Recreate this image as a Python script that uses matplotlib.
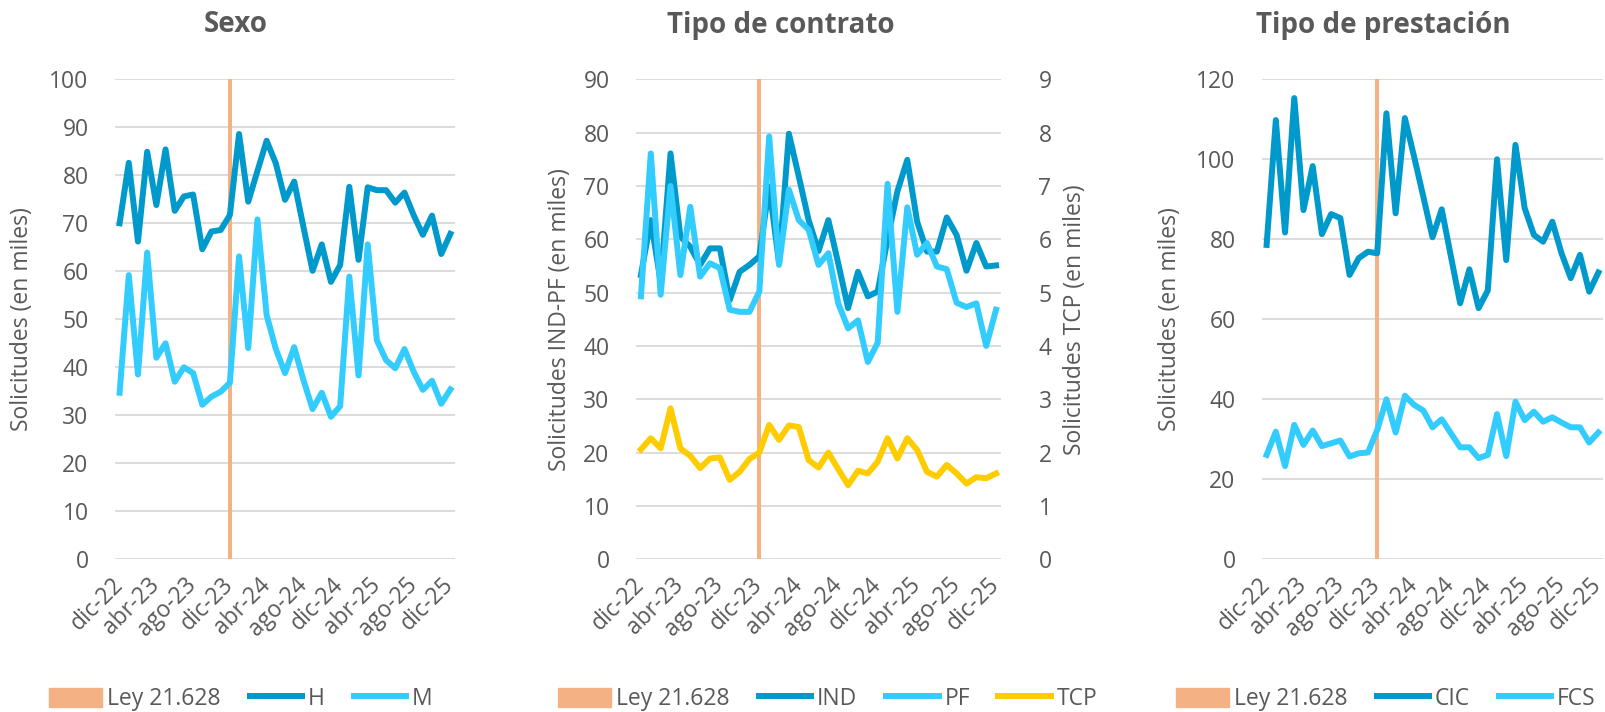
import numpy as np
import matplotlib
matplotlib.use('Agg')
import matplotlib.pyplot as plt
from matplotlib.lines import Line2D
from matplotlib.patches import Patch

plt.rcParams['font.family'] = ['Open Sans', 'DejaVu Sans']

meses = ['dic-22', 'ene-23', 'feb-23', 'mar-23', 'abr-23', 'may-23', 'jun-23', 'jul-23',
         'ago-23', 'sep-23', 'oct-23', 'nov-23', 'dic-23', 'ene-24', 'feb-24', 'mar-24',
         'abr-24', 'may-24', 'jun-24', 'jul-24', 'ago-24', 'sep-24', 'oct-24', 'nov-24',
         'dic-24', 'ene-25', 'feb-25', 'mar-25', 'abr-25', 'may-25', 'jun-25', 'jul-25',
         'ago-25', 'sep-25', 'oct-25', 'nov-25', 'dic-25']
meses_ticks = ['dic-22', 'abr-23', 'ago-23', 'dic-23', 'abr-24', 'ago-24',
               'dic-24', 'abr-25', 'ago-25', 'dic-25']
mes_ley = 'dic-23'

# Sexo (miles)
h = [70.0, 82.6, 66.2, 84.9, 73.8, 85.4, 72.6, 75.6, 76.0, 64.6, 68.3, 68.6, 71.7,
     88.6, 74.5, 80.9, 87.2, 82.5, 74.9, 78.7, 69.3, 60.1, 65.6, 57.8, 61.3, 77.6,
     62.4, 77.5, 76.9, 76.9, 74.3, 76.4, 71.7, 67.6, 71.6, 63.6, 67.8]
m = [34.7, 59.2, 38.5, 63.9, 42.0, 45.0, 37.0, 40.0, 38.8, 32.2, 33.9, 34.9, 36.8,
     63.1, 44.0, 70.8, 50.9, 43.8, 38.8, 44.2, 37.4, 31.3, 34.7, 29.7, 31.9, 58.9,
     38.3, 65.6, 45.6, 41.5, 39.8, 43.8, 39.1, 35.3, 37.2, 32.4, 35.4]

# Tipo de contrato (miles)
ind = [53.3, 63.6, 52.0, 76.1, 60.5, 58.6, 55.2, 58.3, 58.3, 48.6, 53.9, 55.2, 56.8,
       69.9, 55.5, 79.8, 71.8, 63.6, 57.8, 63.6, 55.5, 47.1, 53.9, 49.3, 50.2, 60.0,
       69.0, 74.9, 63.3, 57.7, 57.7, 64.1, 60.8, 54.1, 59.3, 54.9, 55.1]
pf = [49.3, 76.1, 49.6, 70.0, 53.3, 66.1, 53.0, 55.5, 54.6, 46.8, 46.4, 46.4, 50.2,
      79.3, 55.2, 69.3, 63.6, 61.8, 55.2, 57.4, 48.0, 43.3, 44.8, 37.0, 40.6, 70.4,
      46.4, 66.0, 57.1, 59.3, 54.9, 54.4, 48.1, 47.3, 48.0, 40.0, 46.8]
tcp = [2.06, 2.27, 2.08, 2.83, 2.08, 1.94, 1.71, 1.89, 1.91, 1.49, 1.64, 1.88, 2.00,
       2.52, 2.24, 2.51, 2.48, 1.86, 1.72, 2.00, 1.69, 1.39, 1.66, 1.61, 1.83, 2.27,
       1.89, 2.27, 2.05, 1.64, 1.55, 1.77, 1.61, 1.42, 1.54, 1.52, 1.61]

# Tipo de prestacion (miles)
cic = [78.6, 109.8, 81.7, 115.3, 87.3, 98.3, 81.3, 86.3, 85.3, 71.1, 75.3, 76.9, 76.5,
       111.5, 86.5, 110.3, 100.7, 90.7, 80.5, 87.5, 75.7, 64.0, 72.5, 62.8, 67.2, 100.0,
       74.8, 103.6, 87.8, 81.1, 79.4, 84.4, 76.5, 70.3, 76.1, 66.9, 71.7]
fcs = [26.1, 31.9, 23.3, 33.6, 28.6, 32.2, 28.3, 29.0, 29.7, 25.7, 26.5, 26.7, 32.3,
       40.0, 31.7, 40.9, 38.6, 37.2, 33.0, 35.0, 31.5, 28.0, 28.0, 25.3, 26.1, 36.3,
       25.8, 39.4, 34.8, 36.9, 34.4, 35.5, 34.2, 33.0, 33.0, 29.2, 31.7]

AZUL = '#0099cc'
CELESTE = '#33ccff'
AMARILLO = '#ffcc00'
NARANJA = '#f4b183'
GRIS = '#595959'
GRILLA = '#d9d9d9'
FS = 16.5
LW = 4.3

fig = plt.figure(figsize=(16.06, 7.12), dpi=100)
W, H = 1606, 712


def make_ax(x0, x1, y0=79.3, y1=559.3):
    return fig.add_axes([x0 / W, 1 - y1 / H, (x1 - x0) / W, (y1 - y0) / H])


def style(ax, ymax, step):
    x = np.arange(len(meses))
    ax.set_xlim(-0.5, len(meses) - 0.5)
    ax.set_ylim(0, ymax)
    ax.set_yticks(np.arange(0, ymax + 1, step))
    ax.grid(axis='y', color=GRILLA, lw=1.3)
    ax.set_axisbelow(True)
    for s in ax.spines.values():
        s.set_visible(False)
    ax.tick_params(axis='both', length=0, labelsize=FS, labelcolor=GRIS)
    ax.tick_params(axis='y', pad=19)
    ax.set_xticks([meses.index(t) for t in meses_ticks])
    ax.set_xticklabels(meses_ticks, rotation=45, ha='right', rotation_mode='anchor', va='center')
    ax.tick_params(axis='x', pad=16)
    # barra Ley 21.628
    ley = [ymax if mm == mes_ley else 0 for mm in meses]
    ax.bar(x, ley, width=0.42, color=NARANJA, zorder=1)
    return x


def legend(handles, labels, x0):
    fig.legend(handles, labels, loc='center left', bbox_to_anchor=(x0 / W, 1 - 699 / H),
               ncol=len(handles), frameon=False, fontsize=FS, labelcolor=GRIS,
               borderpad=0, borderaxespad=0,
               handlelength=2.3, handleheight=0.9, handletextpad=0.25, columnspacing=1.25)


ley_h = Patch(color=NARANJA)

# Panel 1: Sexo
ax1 = make_ax(115, 455)
x = style(ax1, 100, 10)
ax1.plot(x, h, color=AZUL, lw=LW, zorder=3)
ax1.plot(x, m, color=CELESTE, lw=LW, zorder=3)
ax1.set_ylabel('Solicitudes (en miles)', fontsize=FS, color=GRIS)
ax1.yaxis.set_label_coords(-0.238, 0.5)
fig.text(236 / W, 1 - 25 / H, 'Sexo', ha='center', va='center', fontsize=20,
         fontweight='bold', color=GRIS)
legend([ley_h, Line2D([], [], color=AZUL, lw=LW), Line2D([], [], color=CELESTE, lw=LW)],
       ['Ley 21.628', 'H', 'M'], 49)

# Panel 2: Tipo de contrato
ax2 = make_ax(636, 1001)
x = style(ax2, 90, 10)
ax2.plot(x, ind, color=AZUL, lw=LW, zorder=3)
ax2.plot(x, pf, color=CELESTE, lw=LW, zorder=3)
ax2.set_ylabel('Solicitudes IND-PF (en miles)', fontsize=FS, color=GRIS)
ax2.yaxis.set_label_coords(-0.175, 0.5)
ax2b = ax2.twinx()
ax2b.set_ylim(0, 9)
ax2b.set_yticks(np.arange(0, 10, 1))
ax2b.plot(x, tcp, color=AMARILLO, lw=LW, zorder=3)
for s in ax2b.spines.values():
    s.set_visible(False)
ax2b.tick_params(axis='y', length=0, labelsize=FS, labelcolor=GRIS, pad=27)
ax2b.set_ylabel('Solicitudes TCP (en miles)', fontsize=FS, color=GRIS)
ax2b.yaxis.set_label_coords(1.17, 0.5)
fig.text(781 / W, 1 - 25 / H, 'Tipo de contrato', ha='center', va='center', fontsize=20,
         fontweight='bold', color=GRIS)
legend([ley_h, Line2D([], [], color=AZUL, lw=LW), Line2D([], [], color=CELESTE, lw=LW),
        Line2D([], [], color=AMARILLO, lw=LW)],
       ['Ley 21.628', 'IND', 'PF', 'TCP'], 558)

# Panel 3: Tipo de prestacion
ax3 = make_ax(1262, 1603)
x = style(ax3, 120, 20)
ax3.plot(x, cic, color=AZUL, lw=LW, zorder=3)
ax3.plot(x, fcs, color=CELESTE, lw=LW, zorder=3)
ax3.set_ylabel('Solicitudes (en miles)', fontsize=FS, color=GRIS)
ax3.yaxis.set_label_coords(-0.235, 0.5)
fig.text(1383 / W, 1 - 25 / H, 'Tipo de prestación', ha='center', va='center', fontsize=20,
         fontweight='bold', color=GRIS)
legend([ley_h, Line2D([], [], color=AZUL, lw=LW), Line2D([], [], color=CELESTE, lw=LW)],
       ['Ley 21.628', 'CIC', 'FCS'], 1176)

fig.savefig('out.png', dpi=100)
